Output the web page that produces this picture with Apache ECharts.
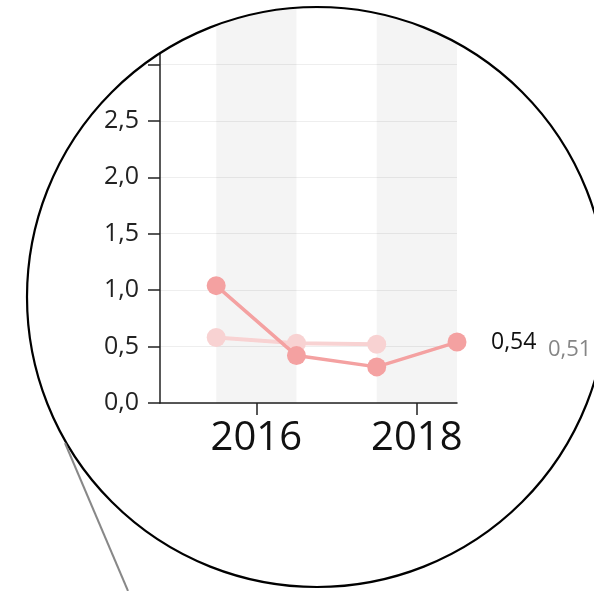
<!DOCTYPE html>
<html>
<head>
<meta charset="utf-8">
<script src="https://cdn.jsdelivr.net/npm/echarts@6/dist/echarts.min.js"></script>
<style>
  html, body { margin: 0; padding: 0; background: #fff; }
  #chart { width: 594px; height: 591px; }
</style>
</head>
<body>
<div id="chart"></div>
<script>
// data
const years = [2015.5, 2016.5, 2017.5, 2018.5];
const mainValues = [1.04, 0.42, 0.32, 0.54];
const paleValues = [0.58, 0.53, 0.52];
const bands = [[2015.5, 2016.5], [2017.5, 2018.5]];
const xTickValues = [2016, 2018];
const endValues = [0.54, 0.51];
const leaderEnd = 2019.55;

const fmt = (v, d) => v.toFixed(d).replace('.', ',');
const FONT = 'Open Sans';

const chart = echarts.init(document.getElementById('chart'));

const option = {
  animation: false,
  grid: { left: 160, top: 8, width: 297, height: 395, containLabel: false },
  xAxis: {
    type: 'value',
    min: 2014.8,
    max: 2018.5,
    splitLine: { show: false },
    axisLine: { lineStyle: { color: '#222', width: 1.5 } },
    axisTick: { show: true, customValues: xTickValues, length: 12, lineStyle: { color: '#222', width: 1.5 } },
    axisLabel: {
      customValues: xTickValues,
      margin: 16,
      fontSize: 40,
      color: '#111',
      fontFamily: FONT,
      formatter: v => String(v)
    }
  },
  yAxis: {
    type: 'value',
    min: 0,
    max: 3.5,
    interval: 0.5,
    axisLine: { show: true, lineStyle: { color: '#222', width: 1.5 } },
    axisTick: { show: true, length: 12, lineStyle: { color: '#222', width: 1.5 } },
    splitLine: { lineStyle: { color: '#eeeeee', width: 1 } },
    axisLabel: {
      margin: 21,
      fontSize: 25,
      color: '#222',
      fontFamily: FONT,
      formatter: v => (v >= 3 ? '' : fmt(v, 1))
    }
  },
  series: [
    {
      type: 'line',
      data: [],
      silent: true,
      markArea: {
        silent: true,
        itemStyle: { color: 'rgba(0,0,0,0.045)' },
        data: bands.map(b => [{ xAxis: b[0] }, { xAxis: b[1] }])
      }
    },
    {
      type: 'line',
      clip: false,
      data: [[years[years.length - 1], endValues[0]], [leaderEnd, endValues[0]]],
      showSymbol: false,
      lineStyle: { color: '#d8d8d8', width: 1 },
      z: 1
    },
    {
      name: 'pale',
      type: 'line',
      data: paleValues.map((v, i) => [years[i], v]),
      symbol: 'circle',
      symbolSize: 19,
      itemStyle: { color: '#f8d2d2' },
      lineStyle: { color: '#f8d2d2', width: 4 },
      z: 2
    },
    {
      name: 'main',
      type: 'line',
      data: mainValues.map((v, i) => [years[i], v]),
      symbol: 'circle',
      symbolSize: 19,
      itemStyle: { color: '#f4a1a1' },
      lineStyle: { color: '#f4a1a1', width: 3.5 },
      endLabel: {
        show: true,
        distance: 34,
        formatter: () => fmt(endValues[0], 2),
        fontSize: 23,
        color: '#111',
        fontFamily: FONT
      },
      z: 3
    },
    {
      type: 'scatter',
      clip: false,
      data: [[years[years.length - 1], endValues[1]]],
      symbolSize: 0,
      label: {
        show: true,
        position: 'right',
        offset: [86, 4],
        formatter: () => fmt(endValues[1], 2),
        fontSize: 22,
        color: '#666',
        fontFamily: FONT
      },
      z: 3
    }
  ],
  graphic: [
    {
      type: 'circle',
      z: 100,
      silent: true,
      shape: { cx: 317, cy: 297, r: 790 },
      style: { fill: null, stroke: '#fff', lineWidth: 1000 }
    },
    {
      type: 'circle',
      z: 101,
      silent: true,
      shape: { cx: 317, cy: 297, r: 290 },
      style: { fill: null, stroke: '#000', lineWidth: 2.2 }
    },
    {
      type: 'line',
      z: 101,
      silent: true,
      shape: { x1: 65, y1: 443, x2: 128, y2: 591 },
      style: { stroke: '#888', lineWidth: 2 }
    }
  ]
};

chart.setOption(option);
</script>
</body>
</html>
